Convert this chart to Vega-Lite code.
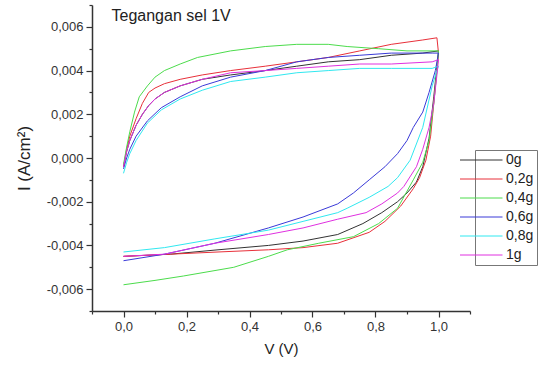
{
  "$schema": "https://vega.github.io/schema/vega-lite/v6.json",
  "width": 378,
  "height": 306,
  "autosize": {"type": "none"},
  "padding": {"left": 92, "top": 5, "right": 68, "bottom": 54},
  "background": "white",
  "config": {"view": {"stroke": null}, "font": "Liberation Sans"},
  "layer": [
    {
      "data": {"values": [
        {"s":"0g","i":1,"v":0,"c":-0.0004},{"s":"0g","i":2,"v":0.01,"c":0.0003},{"s":"0g","i":3,"v":0.02,"c":0.0008},{"s":"0g","i":4,"v":0.04,"c":0.0015},{"s":"0g","i":5,"v":0.06,"c":0.002},{"s":"0g","i":6,"v":0.08,"c":0.0024},{"s":"0g","i":7,"v":0.1,"c":0.0027},{"s":"0g","i":8,"v":0.13,"c":0.003},{"s":"0g","i":9,"v":0.18,"c":0.0033},{"s":"0g","i":10,"v":0.25,"c":0.0036},{"s":"0g","i":11,"v":0.34,"c":0.0038},{"s":"0g","i":12,"v":0.45,"c":0.004},{"s":"0g","i":13,"v":0.55,"c":0.0042},{"s":"0g","i":14,"v":0.65,"c":0.0044},{"s":"0g","i":15,"v":0.75,"c":0.0045},{"s":"0g","i":16,"v":0.85,"c":0.0047},{"s":"0g","i":17,"v":0.95,"c":0.0048},{"s":"0g","i":18,"v":1.0,"c":0.0049},{"s":"0g","i":19,"v":0.995,"c":0.0042},{"s":"0g","i":20,"v":0.985,"c":0.0028},{"s":"0g","i":21,"v":0.97,"c":0.0009},{"s":"0g","i":22,"v":0.95,"c":-0.0004},{"s":"0g","i":23,"v":0.93,"c":-0.0011},{"s":"0g","i":24,"v":0.9,"c":-0.0016},{"s":"0g","i":25,"v":0.87,"c":-0.002},{"s":"0g","i":26,"v":0.82,"c":-0.0025},{"s":"0g","i":27,"v":0.76,"c":-0.003},{"s":"0g","i":28,"v":0.68,"c":-0.0035},{"s":"0g","i":29,"v":0.57,"c":-0.0038},{"s":"0g","i":30,"v":0.46,"c":-0.004},{"s":"0g","i":31,"v":0.3,"c":-0.0042},{"s":"0g","i":32,"v":0.15,"c":-0.0044},{"s":"0g","i":33,"v":0,"c":-0.0045},

        {"s":"0,2g","i":1,"v":0,"c":-0.0004},{"s":"0,2g","i":2,"v":0.01,"c":0.0004},{"s":"0,2g","i":3,"v":0.02,"c":0.001},{"s":"0,2g","i":4,"v":0.04,"c":0.0018},{"s":"0,2g","i":5,"v":0.06,"c":0.0025},{"s":"0,2g","i":6,"v":0.08,"c":0.003},{"s":"0,2g","i":7,"v":0.1,"c":0.0032},{"s":"0,2g","i":8,"v":0.13,"c":0.0034},{"s":"0,2g","i":9,"v":0.18,"c":0.0036},{"s":"0,2g","i":10,"v":0.25,"c":0.0038},{"s":"0,2g","i":11,"v":0.34,"c":0.004},{"s":"0,2g","i":12,"v":0.45,"c":0.0042},{"s":"0,2g","i":13,"v":0.55,"c":0.0044},{"s":"0,2g","i":14,"v":0.65,"c":0.0046},{"s":"0,2g","i":15,"v":0.75,"c":0.0049},{"s":"0,2g","i":16,"v":0.85,"c":0.0052},{"s":"0,2g","i":17,"v":0.95,"c":0.0054},{"s":"0,2g","i":18,"v":0.995,"c":0.0055},{"s":"0,2g","i":19,"v":1.0,"c":0.0048},{"s":"0,2g","i":20,"v":0.995,"c":0.004},{"s":"0,2g","i":21,"v":0.985,"c":0.0025},{"s":"0,2g","i":22,"v":0.975,"c":0.001},{"s":"0,2g","i":23,"v":0.96,"c":-0.0001},{"s":"0,2g","i":24,"v":0.94,"c":-0.0009},{"s":"0,2g","i":25,"v":0.92,"c":-0.0014},{"s":"0,2g","i":26,"v":0.88,"c":-0.0022},{"s":"0,2g","i":27,"v":0.83,"c":-0.0029},{"s":"0,2g","i":28,"v":0.78,"c":-0.0034},{"s":"0,2g","i":29,"v":0.68,"c":-0.0039},{"s":"0,2g","i":30,"v":0.57,"c":-0.0041},{"s":"0,2g","i":31,"v":0.46,"c":-0.0042},{"s":"0,2g","i":32,"v":0.3,"c":-0.0043},{"s":"0,2g","i":33,"v":0.15,"c":-0.0044},{"s":"0,2g","i":34,"v":0,"c":-0.0045},

        {"s":"0,4g","i":1,"v":0,"c":-0.0003},{"s":"0,4g","i":2,"v":0.01,"c":0.0005},{"s":"0,4g","i":3,"v":0.02,"c":0.0012},{"s":"0,4g","i":4,"v":0.035,"c":0.0021},{"s":"0,4g","i":5,"v":0.05,"c":0.0028},{"s":"0,4g","i":6,"v":0.076,"c":0.0033},{"s":"0,4g","i":7,"v":0.1,"c":0.0037},{"s":"0,4g","i":8,"v":0.13,"c":0.004},{"s":"0,4g","i":9,"v":0.18,"c":0.0043},{"s":"0,4g","i":10,"v":0.235,"c":0.0046},{"s":"0,4g","i":11,"v":0.34,"c":0.0049},{"s":"0,4g","i":12,"v":0.45,"c":0.0051},{"s":"0,4g","i":13,"v":0.55,"c":0.0052},{"s":"0,4g","i":14,"v":0.65,"c":0.0052},{"s":"0,4g","i":15,"v":0.71,"c":0.0051},{"s":"0,4g","i":16,"v":0.81,"c":0.005},{"s":"0,4g","i":17,"v":0.9,"c":0.0049},{"s":"0,4g","i":18,"v":1.0,"c":0.0049},{"s":"0,4g","i":19,"v":0.995,"c":0.004},{"s":"0,4g","i":20,"v":0.985,"c":0.0025},{"s":"0,4g","i":21,"v":0.97,"c":0.0008},{"s":"0,4g","i":22,"v":0.95,"c":-0.0002},{"s":"0,4g","i":23,"v":0.92,"c":-0.001},{"s":"0,4g","i":24,"v":0.87,"c":-0.0023},{"s":"0,4g","i":25,"v":0.81,"c":-0.003},{"s":"0,4g","i":26,"v":0.73,"c":-0.0036},{"s":"0,4g","i":27,"v":0.62,"c":-0.0039},{"s":"0,4g","i":28,"v":0.52,"c":-0.0042},{"s":"0,4g","i":29,"v":0.46,"c":-0.0045},{"s":"0,4g","i":30,"v":0.35,"c":-0.005},{"s":"0,4g","i":31,"v":0.19,"c":-0.0054},{"s":"0,4g","i":32,"v":0.1,"c":-0.0056},{"s":"0,4g","i":33,"v":0,"c":-0.0058},

        {"s":"0,6g","i":1,"v":0,"c":-0.0005},{"s":"0,6g","i":2,"v":0.01,"c":0.0},{"s":"0,6g","i":3,"v":0.02,"c":0.0004},{"s":"0,6g","i":4,"v":0.04,"c":0.001},{"s":"0,6g","i":5,"v":0.076,"c":0.0017},{"s":"0,6g","i":6,"v":0.12,"c":0.0023},{"s":"0,6g","i":7,"v":0.18,"c":0.0028},{"s":"0,6g","i":8,"v":0.25,"c":0.0033},{"s":"0,6g","i":9,"v":0.34,"c":0.0037},{"s":"0,6g","i":10,"v":0.45,"c":0.004},{"s":"0,6g","i":11,"v":0.55,"c":0.0044},{"s":"0,6g","i":12,"v":0.65,"c":0.0046},{"s":"0,6g","i":13,"v":0.75,"c":0.0047},{"s":"0,6g","i":14,"v":0.85,"c":0.0048},{"s":"0,6g","i":15,"v":0.98,"c":0.0048},{"s":"0,6g","i":16,"v":1.0,"c":0.0048},{"s":"0,6g","i":17,"v":0.99,"c":0.004},{"s":"0,6g","i":18,"v":0.97,"c":0.003},{"s":"0,6g","i":19,"v":0.95,"c":0.0021},{"s":"0,6g","i":20,"v":0.92,"c":0.0014},{"s":"0,6g","i":21,"v":0.9,"c":0.0008},{"s":"0,6g","i":22,"v":0.87,"c":0.0002},{"s":"0,6g","i":23,"v":0.83,"c":-0.0004},{"s":"0,6g","i":24,"v":0.78,"c":-0.001},{"s":"0,6g","i":25,"v":0.73,"c":-0.0016},{"s":"0,6g","i":26,"v":0.68,"c":-0.0021},{"s":"0,6g","i":27,"v":0.57,"c":-0.0027},{"s":"0,6g","i":28,"v":0.46,"c":-0.0032},{"s":"0,6g","i":29,"v":0.29,"c":-0.0039},{"s":"0,6g","i":30,"v":0.13,"c":-0.0044},{"s":"0,6g","i":31,"v":0,"c":-0.0047},

        {"s":"0,8g","i":1,"v":0,"c":-0.0007},{"s":"0,8g","i":2,"v":0.01,"c":-0.0002},{"s":"0,8g","i":3,"v":0.02,"c":0.0002},{"s":"0,8g","i":4,"v":0.04,"c":0.0008},{"s":"0,8g","i":5,"v":0.076,"c":0.0016},{"s":"0,8g","i":6,"v":0.12,"c":0.0022},{"s":"0,8g","i":7,"v":0.18,"c":0.0027},{"s":"0,8g","i":8,"v":0.25,"c":0.0031},{"s":"0,8g","i":9,"v":0.34,"c":0.0035},{"s":"0,8g","i":10,"v":0.45,"c":0.0037},{"s":"0,8g","i":11,"v":0.55,"c":0.0039},{"s":"0,8g","i":12,"v":0.65,"c":0.004},{"s":"0,8g","i":13,"v":0.75,"c":0.0041},{"s":"0,8g","i":14,"v":0.85,"c":0.0041},{"s":"0,8g","i":15,"v":0.98,"c":0.0041},{"s":"0,8g","i":16,"v":1.0,"c":0.0042},{"s":"0,8g","i":17,"v":0.995,"c":0.004},{"s":"0,8g","i":18,"v":0.98,"c":0.0033},{"s":"0,8g","i":19,"v":0.95,"c":0.0014},{"s":"0,8g","i":20,"v":0.91,"c":-0.0001},{"s":"0,8g","i":21,"v":0.87,"c":-0.0009},{"s":"0,8g","i":22,"v":0.84,"c":-0.0013},{"s":"0,8g","i":23,"v":0.78,"c":-0.0018},{"s":"0,8g","i":24,"v":0.71,"c":-0.0023},{"s":"0,8g","i":25,"v":0.68,"c":-0.0025},{"s":"0,8g","i":26,"v":0.57,"c":-0.0029},{"s":"0,8g","i":27,"v":0.46,"c":-0.0033},{"s":"0,8g","i":28,"v":0.29,"c":-0.0037},{"s":"0,8g","i":29,"v":0.13,"c":-0.0041},{"s":"0,8g","i":30,"v":0,"c":-0.0043},

        {"s":"1g","i":1,"v":0,"c":-0.0004},{"s":"1g","i":2,"v":0.01,"c":0.0003},{"s":"1g","i":3,"v":0.02,"c":0.0008},{"s":"1g","i":4,"v":0.04,"c":0.0015},{"s":"1g","i":5,"v":0.06,"c":0.002},{"s":"1g","i":6,"v":0.08,"c":0.0024},{"s":"1g","i":7,"v":0.1,"c":0.0027},{"s":"1g","i":8,"v":0.13,"c":0.003},{"s":"1g","i":9,"v":0.18,"c":0.0033},{"s":"1g","i":10,"v":0.25,"c":0.0036},{"s":"1g","i":11,"v":0.34,"c":0.0039},{"s":"1g","i":12,"v":0.45,"c":0.004},{"s":"1g","i":13,"v":0.55,"c":0.0041},{"s":"1g","i":14,"v":0.65,"c":0.0042},{"s":"1g","i":15,"v":0.75,"c":0.0043},{"s":"1g","i":16,"v":0.85,"c":0.0043},{"s":"1g","i":17,"v":0.98,"c":0.0044},{"s":"1g","i":18,"v":1.0,"c":0.0045},{"s":"1g","i":19,"v":0.995,"c":0.0038},{"s":"1g","i":20,"v":0.985,"c":0.0025},{"s":"1g","i":21,"v":0.97,"c":0.0014},{"s":"1g","i":22,"v":0.95,"c":0.0004},{"s":"1g","i":23,"v":0.93,"c":-0.0004},{"s":"1g","i":24,"v":0.89,"c":-0.0013},{"s":"1g","i":25,"v":0.87,"c":-0.0016},{"s":"1g","i":26,"v":0.82,"c":-0.0021},{"s":"1g","i":27,"v":0.77,"c":-0.0025},{"s":"1g","i":28,"v":0.68,"c":-0.0028},{"s":"1g","i":29,"v":0.57,"c":-0.0032},{"s":"1g","i":30,"v":0.46,"c":-0.0035},{"s":"1g","i":31,"v":0.29,"c":-0.0039},{"s":"1g","i":32,"v":0.13,"c":-0.0044},{"s":"1g","i":33,"v":0,"c":-0.0045}
      ]},
      "mark": {"type": "line", "strokeWidth": 1, "clip": true},
      "encoding": {
        "x": {"field": "v", "type": "quantitative",
          "scale": {"domain": [-0.1, 1.1], "nice": false, "zero": false},
          "axis": {"title": "V (V)", "grid": false, "tickCount": 100,
            "values": [-0.1, 0, 0.1, 0.2, 0.3, 0.4, 0.5, 0.6, 0.7, 0.8, 0.9, 1.0, 1.1],
            "labelExpr": "abs(datum.value*10 - 2*round(datum.value*5)) < 0.01 ? replace(format(datum.value,'.1f'),'.',',') : ''",
            "tickSize": {"condition": {"test": "abs(datum.value*10 - 2*round(datum.value*5)) > 0.01", "value": 3}, "value": 6},
            "labelOverlap": false, "labelFlush": false, "labelBound": false,
            "domainColor": "#333", "domainWidth": 1.5, "tickColor": "#333", "tickWidth": 1.2,
            "labelFont": "Liberation Sans", "labelFontSize": 13, "labelColor": "#333", "labelPadding": 3,
            "titleFont": "Liberation Sans", "titleFontSize": 15, "titleFontWeight": "normal", "titleColor": "#222", "titlePadding": 8}
        },
        "y": {"field": "c", "type": "quantitative",
          "scale": {"domain": [-0.007, 0.007], "nice": false, "zero": false},
          "axis": {"title": "I (A/cm²)", "grid": false, "tickCount": 100,
            "values": [-0.007, -0.006, -0.005, -0.004, -0.003, -0.002, -0.001, 0, 0.001, 0.002, 0.003, 0.004, 0.005, 0.006, 0.007],
            "labelExpr": "abs(datum.value*1000 - 2*round(datum.value*500)) < 0.01 ? (datum.value < 0 ? '-' : '') + replace(format(abs(datum.value),'.3f'),'.',',') : ''",
            "tickSize": {"condition": {"test": "abs(datum.value*1000 - 2*round(datum.value*500)) > 0.01", "value": 3}, "value": 6},
            "labelOverlap": false, "labelFlush": false, "labelBound": false,
            "domainColor": "#333", "domainWidth": 1.5, "tickColor": "#333", "tickWidth": 1.2,
            "labelFont": "Liberation Sans", "labelFontSize": 13, "labelColor": "#333", "labelPadding": 3,
            "titleFont": "Liberation Sans", "titleFontSize": 17, "titleFontWeight": "normal", "titleColor": "#222", "titlePadding": 13}
        },
        "color": {"field": "s", "type": "nominal",
          "scale": {"domain": ["0g", "0,2g", "0,4g", "0,6g", "0,8g", "1g"],
                    "range": ["#333333", "#e8303a", "#4cdc4c", "#3a3ad8", "#30e8f0", "#e030e0"]},
          "legend": {"title": null, "orient": "none", "legendX": 383, "legendY": 145,
            "symbolType": "M-5,0H3.5", "symbolSize": 100, "symbolStrokeWidth": 1,
            "labelFont": "Liberation Sans", "labelFontSize": 14, "labelColor": "#222", "labelOffset": 14,
            "strokeColor": "#777", "padding": 3, "rowPadding": 5, "fillColor": "white"}
        },
        "order": {"field": "i", "type": "quantitative"}
      }
    },
    {
      "data": {"values": [{"label": "Tegangan sel 1V"}]},
      "mark": {"type": "text", "align": "left", "baseline": "middle", "fontSize": 16, "font": "Liberation Sans", "color": "#222"},
      "encoding": {
        "x": {"datum": -0.038, "type": "quantitative"},
        "y": {"datum": 0.00648, "type": "quantitative"},
        "text": {"field": "label", "type": "nominal"}
      }
    }
  ]
}
